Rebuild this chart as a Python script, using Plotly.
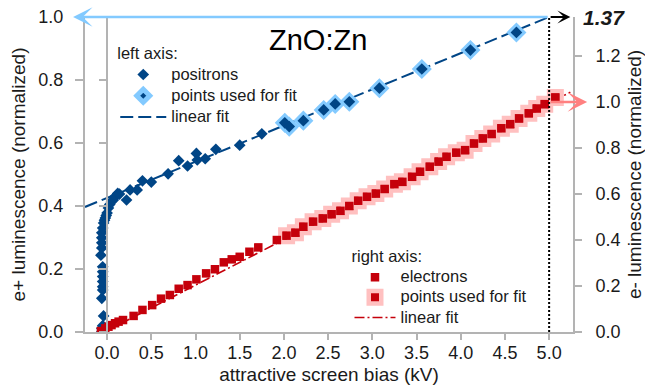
import plotly.graph_objects as go

# ---------------- data ----------------
# positrons (left axis) - all measured points
pos_x = [-0.06, -0.06, -0.05, -0.04, -0.06, -0.05, -0.05, -0.05, -0.05, -0.05, -0.05,
         -0.07, -0.06, -0.06, -0.06, -0.06, -0.05, -0.04, -0.03, -0.02, -0.01, 0.0,
         0.015, 0.03, 0.05, 0.07, 0.09, 0.12, 0.14, 0.22, 0.26, 0.34, 0.40, 0.50,
         0.69, 0.81, 0.91, 1.01, 1.02, 1.11, 1.23, 1.50, 1.75,
         2.01, 2.06, 2.22, 2.45, 2.58, 2.74, 3.08, 3.56, 4.11, 4.63]
pos_y = [0.001, 0.012, 0.020, 0.051, 0.107, 0.133, 0.144, 0.160, 0.176, 0.191, 0.207,
         0.244, 0.267, 0.283, 0.299, 0.315, 0.330, 0.346, 0.355, 0.362, 0.370, 0.378,
         0.394, 0.405, 0.414, 0.419, 0.430, 0.440, 0.438, 0.419, 0.451, 0.451, 0.480, 0.476,
         0.502, 0.544, 0.527, 0.567, 0.546, 0.550, 0.580, 0.593, 0.629,
         0.664, 0.652, 0.671, 0.705, 0.724, 0.731, 0.774, 0.835, 0.895, 0.951]
# positron points used for the fit
pos_fit_x = [2.01, 2.06, 2.22, 2.45, 2.58, 2.74, 3.08, 3.56, 4.11, 4.63]
pos_fit_y = [0.664, 0.652, 0.671, 0.705, 0.724, 0.731, 0.774, 0.835, 0.895, 0.951]
# positron linear fit (end points)
pos_line_x = [-0.25, 5.0]
pos_line_y = [0.397, 1.0]

# electrons (right axis) - all measured points
ele_x = [-0.07, -0.02, 0.015, 0.05, 0.09, 0.13, 0.18, 0.30, 0.40, 0.51, 0.61, 0.71,
         0.81, 0.91, 1.01, 1.12, 1.22, 1.32, 1.41, 1.50, 1.61, 1.71, 1.92,
         2.03, 2.13, 2.22, 2.33, 2.44, 2.54, 2.64, 2.74, 2.84, 2.94, 3.04, 3.14,
         3.25, 3.34, 3.45, 3.54, 3.65, 3.75, 3.84, 3.95, 4.05, 4.15, 4.25, 4.35,
         4.46, 4.56, 4.66, 4.77, 4.86, 4.95, 5.07]
ele_y = [0.004, 0.016, 0.023, 0.030, 0.038, 0.045, 0.052, 0.070, 0.096, 0.117, 0.145, 0.161,
         0.188, 0.204, 0.229, 0.255, 0.273, 0.303, 0.316, 0.327, 0.349, 0.368, 0.400,
         0.419, 0.432, 0.458, 0.480, 0.494, 0.512, 0.527, 0.548, 0.571, 0.588, 0.602, 0.622,
         0.643, 0.653, 0.675, 0.697, 0.719, 0.741, 0.762, 0.780, 0.791, 0.820, 0.842, 0.861,
         0.886, 0.904, 0.929, 0.951, 0.972, 0.991, 1.020]
# electron points used for the fit
ele_fit_x = ele_x[23:]
ele_fit_y = ele_y[23:]
# electron linear fit (end points)
ele_line_x = [-0.03, 5.24]
ele_line_y = [0.0, 1.043]

x_ticks = [0.0, 0.5, 1.0, 1.5, 2.0, 2.5, 3.0, 3.5, 4.0, 4.5, 5.0]
x_tick_text = ["0.0", "0.5", "1.0", "1.5", "2.0", "2.5", "3.0", "3.5", "4.0", "4.5", "5.0"]
yl_ticks = [0.0, 0.2, 0.4, 0.6, 0.8, 1.0]
yl_tick_text = ["0.0", "0.2", "0.4", "0.6", "0.8", "1.0"]
yr_ticks = [0.0, 0.2, 0.4, 0.6, 0.8, 1.0, 1.2]
yr_tick_text = ["0.0", "0.2", "0.4", "0.6", "0.8", "1.0", "1.2"]
yr_max = 1.37
x_range = [-0.25, 5.27]

# ---------------- style ----------------
BLUE = "#004586"
LBLUE = "#83caff"
RED = "#c5000b"
PINK = "#ffc0c0"
GRAY = "#b3b3b3"
TXT = "#1a1a1a"
FONT = "Liberation Sans, Arial, sans-serif"


def lg(txt):
    return "<span style='font-size:16.5px'>" + txt + "</span>"


fig = go.Figure()

# fit lines (under markers)
fig.add_trace(go.Scatter(x=pos_line_x, y=pos_line_y, mode="lines", name=lg("linear fit"),
                         line=dict(color=BLUE, width=2, dash="13px,5px"),
                         legend="legend", legendrank=3, hoverinfo="skip"))
fig.add_trace(go.Scatter(x=ele_line_x, y=ele_line_y, mode="lines", name=lg("linear fit"),
                         yaxis="y2", line=dict(color=RED, width=1.6, dash="10px,3px,2px,3px"),
                         legend="legend2", legendrank=3, hoverinfo="skip"))
# halos for fit points
fig.add_trace(go.Scatter(x=ele_fit_x, y=ele_fit_y, mode="markers", name=lg("points used for fit"),
                         yaxis="y2",
                         marker=dict(symbol="square", size=12.5, color=RED,
                                     line=dict(color=PINK, width=4.5)),
                         legend="legend2", legendrank=2))
fig.add_trace(go.Scatter(x=pos_fit_x, y=pos_fit_y, mode="markers", name=lg("points used for fit"),
                         marker=dict(symbol="diamond", size=10, color=BLUE,
                                     line=dict(color=LBLUE, width=5)),
                         legend="legend", legendrank=2))
# data points
fig.add_trace(go.Scatter(x=ele_x, y=ele_y, mode="markers", name=lg("electrons"), yaxis="y2",
                         marker=dict(symbol="square", size=8.5, color=RED),
                         legend="legend2", legendrank=1))
fig.add_trace(go.Scatter(x=pos_x, y=pos_y, mode="markers", name=lg("positrons"),
                         marker=dict(symbol="diamond", size=9, color=BLUE),
                         legend="legend", legendrank=1))
# dummy trace to realise the x=0 axis
fig.add_trace(go.Scatter(x=[None], y=[None], yaxis="y3", showlegend=False, hoverinfo="skip"))

axis_common = dict(showgrid=False, zeroline=False, showline=True, linecolor=GRAY, linewidth=2,
                   ticks="outside", tickcolor=GRAY, tickwidth=2,
                   tickfont=dict(size=18, color=TXT, family=FONT))

fig.update_layout(
    width=645, height=390,
    margin=dict(l=85, r=72, t=17, b=58, autoexpand=False),
    paper_bgcolor="white", plot_bgcolor="white",
    font=dict(family=FONT, color=TXT),
    xaxis=dict(range=x_range, tickvals=x_ticks, ticktext=x_tick_text, ticklen=6,
               ticklabelstandoff=-3,
               title=dict(text="attractive screen bias (kV)", font=dict(size=19), standoff=6),
               **axis_common),
    yaxis=dict(range=[0, 1], tickvals=yl_ticks, ticktext=yl_tick_text, ticklen=8,
               ticklabelstandoff=8,
               title=dict(text="e+ luminescence (normalized)", font=dict(size=19), standoff=8),
               **axis_common),
    yaxis2=dict(range=[0, yr_max], tickvals=yr_ticks, ticktext=yr_tick_text, ticklen=7,
                overlaying="y", side="right", ticklabelstandoff=10,
                title=dict(text="e- luminescence (normalized)", font=dict(size=19), standoff=8),
                **axis_common),
    yaxis3=dict(range=[0, 1], tickvals=yl_ticks, overlaying="y", anchor="free",
                position=(0 - x_range[0]) / (x_range[1] - x_range[0]),
                showticklabels=False, ticklen=7, showgrid=False, zeroline=False,
                showline=True, linecolor=GRAY, linewidth=2, ticks="outside",
                tickcolor=GRAY, tickwidth=2),
    legend=dict(title=dict(text="left axis:", font=dict(size=16.5)), font=dict(size=14),
                x=0.062, y=0.935, xanchor="left", yanchor="top", bgcolor="rgba(0,0,0,0)",
                itemwidth=46, traceorder="normal"),
    legend2=dict(title=dict(text="right axis:", font=dict(size=16.5)), font=dict(size=13.2),
                 x=0.542, y=0.29, xanchor="left", yanchor="top", bgcolor="rgba(0,0,0,0)",
                 itemwidth=41, traceorder="normal"),
    showlegend=True,
)

# dotted vertical line at 5.0 kV
fig.add_shape(type="line", xref="x", yref="y", x0=5.0, x1=5.0, y0=0, y1=1.0,
              line=dict(color="black", width=2, dash="2px,2px"))

# arrows
fig.add_annotation(x=-0.385, y=1.0, xref="x", yref="y", ax=5.0, ay=1.0, axref="x", ayref="y",
                   text="", showarrow=True, arrowhead=3, arrowsize=1.3, arrowwidth=2.5,
                   arrowcolor=LBLUE, standoff=0, startstandoff=0)
fig.add_annotation(x=5.24, y=1.0, xref="x", yref="y", ax=5.0, ay=1.0, axref="x", ayref="y",
                   text="", showarrow=True, arrowhead=3, arrowsize=1.2, arrowwidth=1.8,
                   arrowcolor="black", standoff=0, startstandoff=0)
fig.add_annotation(x=5.43, y=1.0, xref="x", yref="y2", ax=5.0, ay=1.0, axref="x", ayref="y2",
                   text="", showarrow=True, arrowhead=3, arrowsize=1.3, arrowwidth=2.5,
                   arrowcolor="#ff8080", standoff=0, startstandoff=0)
# bold italic label for the right-axis maximum
fig.add_annotation(x=1.0, y=yr_max, xref="paper", yref="y2", xanchor="left", yanchor="middle",
                   xshift=8, text="<b><i>1.37</i></b>", showarrow=False,
                   font=dict(size=21, color=TXT))
# chart title
fig.add_annotation(x=0.4775, y=0.927, xref="paper", yref="paper", text="ZnO:Zn",
                   showarrow=False, font=dict(size=29, color="black"),
                   xanchor="center", yanchor="middle")

fig.write_html("out.html")
